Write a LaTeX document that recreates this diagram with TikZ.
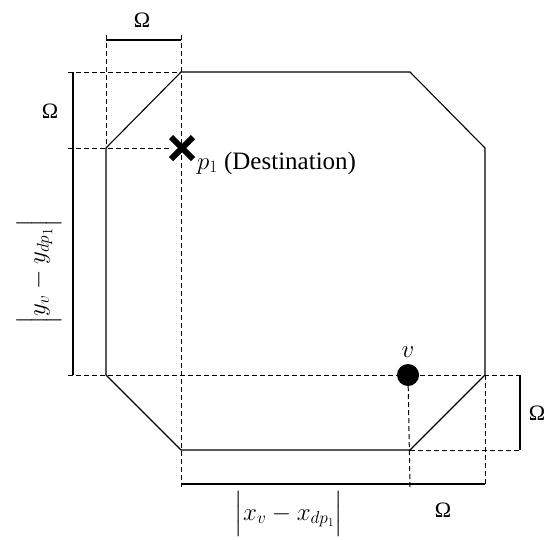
\documentclass[tikz,border=0pt]{standalone}
\usepackage{amsmath}
\usepackage{fontspec}
\setmainfont{Liberation Serif}
\usetikzlibrary{shapes.misc,positioning}

\begin{document}
\begin{tikzpicture}[
    x=1pt, y=-1pt,
    every node/.style={align=center, font=\fontsize{22}{26}\selectfont},
    edge/.style={line width=1.1pt},
    guide/.style={line width=1pt, dash pattern=on 5pt off 3pt},
    dimline/.style={line width=1.1pt},
    destmark/.style={cross out, draw, line width=6pt, minimum size=16pt, inner sep=0pt},
    vdot/.style={circle, fill, minimum size=22pt, inner sep=0pt}
]
\useasboundingbox (0,0) rectangle (545,539);

% Corners of the octagon
\coordinate (a) at (181,72);
\coordinate (b) at (410,72);
\coordinate (c) at (485,148);
\coordinate (d) at (485,375);
\coordinate (e) at (410,450);
\coordinate (f) at (181,450);
\coordinate (g) at (106,375);
\coordinate (h) at (106,148);

% Ends of the guide lines
\coordinate (tl) at (106,35);
\coordinate (tr) at (181,35);
\coordinate (la) at (68,72);
\coordinate (lh) at (68,148);
\coordinate (lg) at (68,375);
\coordinate (rd) at (522,375);
\coordinate (re) at (522,450);
\coordinate (bf) at (181,487);
\coordinate (be) at (410,487);
\coordinate (bd) at (485,487);

% Octagon
\draw[edge] (a) -- (b) -- (c) -- (d) -- (e) -- (f) -- (g) -- (h) -- cycle;

% Marks
\node[destmark] (p1) at (182,148) {};
\node[vdot] (v) at (408,375) {};
\node[anchor=base west, inner sep=0pt, font=\fontsize{25}{30}\selectfont] (p1txt) at (197,169) {$p_1$ (Destination)};
\node[above=3pt of v, font=\fontsize{25}{30}\selectfont] (vtxt) {$v$};

% Guide lines
\draw[guide] (tl) -- (h);
\draw[guide] (tr) -- (bf);
\draw[guide] (la) -- (a);
\draw[guide] (lh) -- (p1);
\draw[guide] (lg) -- (rd);
\draw[guide] (v) -- (be);
\draw[guide] (d) -- (bd);
\draw[guide] (e) -- (re);

% Dimension lines
\draw[dimline] (106,40) -- (181,40);
\draw[dimline] (73,72) -- (73,375);
\draw[dimline] (520,375) -- (520,450);
\draw[dimline] (181,484) -- (485,484);

% Dimension labels
\node (omtop) at (142,20) {Ω};
\node (omleft) at (50,111) {Ω};
\node (omright) at (537,413) {Ω};
\node (ombot) at (443,510) {Ω};
\node[rotate=90, inner sep=0pt, font=\fontsize{27}{31}\selectfont] (dy) at (39,272) {$\Big|y_v - y_{dp_1}\Big|$};
\node[inner sep=0pt, font=\fontsize{24}{28}\selectfont] (dx) at (289,514) {$\Big|x_v - x_{dp_1}\Big|$};

\end{tikzpicture}
\end{document}
